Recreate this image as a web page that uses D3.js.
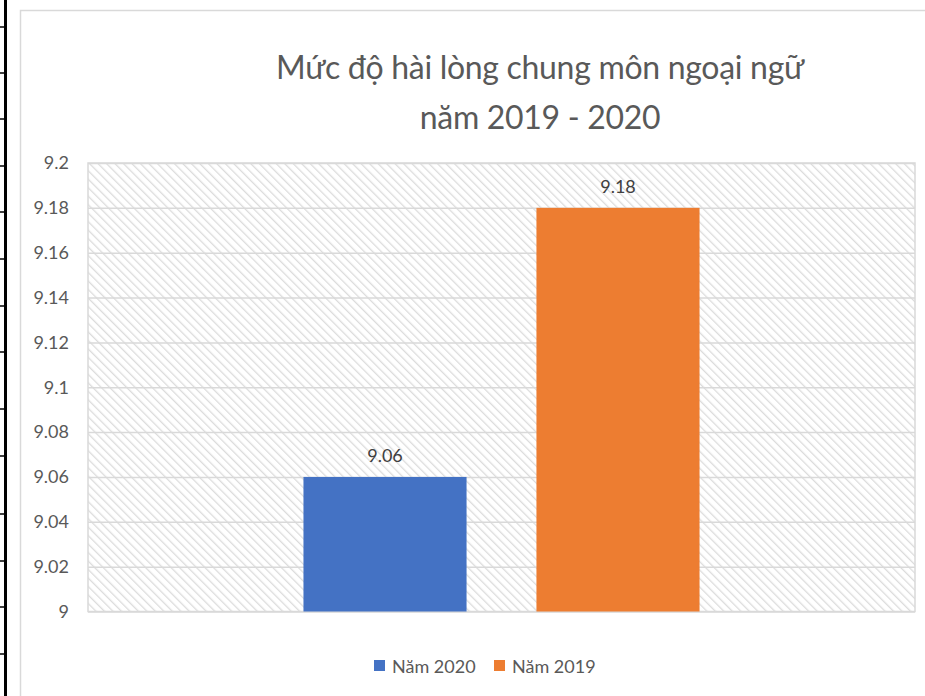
<!DOCTYPE html>
<html>
<head>
<meta charset="utf-8">
<script src="https://cdn.jsdelivr.net/npm/d3@7"></script>
<style>
  body { margin: 0; background: #fff; }
  svg { display: block; font-family: "Lato", "Noto Sans", sans-serif; }
</style>
</head>
<body>
<svg id="target"></svg>
<script>
// Chart data
const categories = ["2019 - 2020"];
const seriesNames = ["Năm 2020", "Năm 2019"];
const seriesValues = [9.06, 9.18];
const seriesColors = ["#4472C4", "#ED7D31"];
const yTicks = [9, 9.02, 9.04, 9.06, 9.08, 9.1, 9.12, 9.14, 9.16, 9.18, 9.2];
const titleLines = ["Mức độ hài lòng chung môn ngoại ngữ", "năm 2019 - 2020"];

// Page size and plot box
let W = 925, H = 696;
let margin = {top: 163, right: 10, bottom: 84.5, left: 88},
    width = W - margin.left - margin.right,
    height = H - margin.top - margin.bottom;

function main() {
    let svg = d3.select("#target")
        .attr("width", W)
        .attr("height", H);

    // hatch pattern for the plot area
    let defs = svg.append("defs");
    let pat = defs.append("pattern")
        .attr("id", "hatch")
        .attr("patternUnits", "userSpaceOnUse")
        .attr("width", 6)
        .attr("height", 6)
        .attr("patternTransform", "rotate(-45)");
    pat.append("rect").attr("width", 6).attr("height", 6).attr("fill", "#fff");
    pat.append("line")
        .attr("x1", 0).attr("y1", 0).attr("x2", 0).attr("y2", 6)
        .attr("stroke", "#dcdcdc")
        .attr("stroke-width", 2.6);

    // left table border (cropped from the source page)
    svg.append("line")
        .attr("x1", 5.5).attr("x2", 5.5).attr("y1", 0).attr("y2", H)
        .attr("stroke", "#000").attr("stroke-width", 3);
    svg.append("g")
        .selectAll("line")
        .data([27, 73, 119, 166, 212, 259, 306, 352, 409, 456, 514, 561, 607, 654])
        .enter().append("line")
        .attr("x1", 0).attr("x2", 5).attr("y1", d => d).attr("y2", d => d)
        .attr("stroke", "#000").attr("stroke-width", 1.5);

    // chart area border
    svg.append("path")
        .attr("d", "M20.5," + H + "V10.5H" + W)
        .attr("fill", "none")
        .attr("stroke", "#d9d9d9")
        .attr("stroke-width", 1.5);

    // title
    svg.append("g")
        .selectAll("text")
        .data(titleLines)
        .enter().append("text")
        .attr("x", 540)
        .attr("y", (d, i) => 79 + i * 50)
        .attr("text-anchor", "middle")
        .attr("fill", "#595959")
        .style("font-size", "32px")
        .style("letter-spacing", "-0.3px")
        .text(d => d);

    let g = svg.append("g")
        .attr("transform", "translate(" + margin.left + "," + margin.top + ")");

    // scales
    let x0 = d3.scaleBand()
        .domain(categories)
        .range([0, width])
        .paddingInner(0)
        .paddingOuter(0.544);
    let x1 = d3.scaleBand()
        .domain(seriesNames)
        .range([0, x0.bandwidth()])
        .paddingInner(0.3);
    let y = d3.scaleLinear()
        .domain([9, 9.2])
        .range([height, 0]);

    // plot area background
    g.append("rect")
        .attr("width", width)
        .attr("height", height)
        .attr("fill", "url(#hatch)")
        .attr("stroke", "#d9d9d9")
        .attr("stroke-width", 1.5);

    // gridlines + Y axis labels
    let yAxis = g.append("g")
        .call(d3.axisLeft(y)
            .tickValues(yTicks)
            .tickSize(-width)
            .tickPadding(19)
            .tickFormat(d => String(+d.toFixed(2))));
    yAxis.select(".domain").remove();
    yAxis.selectAll(".tick line")
        .attr("stroke", "#d9d9d9")
        .attr("stroke-width", 1.5);
    yAxis.selectAll(".tick text")
        .attr("fill", "#595959")
        .style("font-family", "Lato, sans-serif")
        .style("font-size", "18px");

    // bars
    let rows = seriesNames.map((s, i) => ({name: s, value: seriesValues[i], color: seriesColors[i]}));
    let grp = g.append("g")
        .attr("transform", "translate(" + x0(categories[0]) + ",0)");
    grp.selectAll("rect")
        .data(rows)
        .enter().append("rect")
        .attr("x", d => x1(d.name))
        .attr("y", d => y(d.value))
        .attr("width", x1.bandwidth())
        .attr("height", d => height - y(d.value))
        .attr("fill", d => d.color);

    // data labels
    grp.selectAll("text")
        .data(rows)
        .enter().append("text")
        .attr("x", d => x1(d.name) + x1.bandwidth() / 2)
        .attr("y", d => y(d.value) - 15)
        .attr("text-anchor", "middle")
        .attr("fill", "#404040")
        .style("font-size", "18px")
        .text(d => d.value);

    // legend
    let legend = svg.append("g")
        .attr("transform", "translate(374,660)");
    let item = legend.selectAll("g")
        .data(rows)
        .enter().append("g")
        .attr("transform", (d, i) => "translate(" + i * 120 + ",0)");
    item.append("rect")
        .attr("width", 11)
        .attr("height", 11)
        .attr("fill", d => d.color);
    item.append("text")
        .attr("x", 18)
        .attr("y", 13)
        .attr("fill", "#595959")
        .style("font-size", "18px")
        .text(d => d.name);
}

main();
</script>
</body>
</html>
